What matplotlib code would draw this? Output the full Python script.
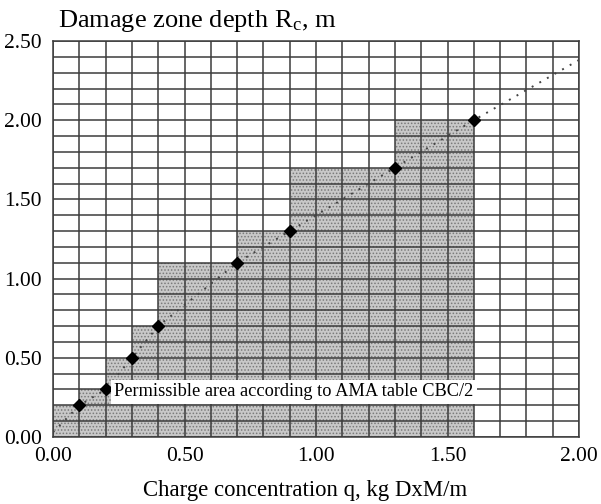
import numpy as np
import matplotlib.pyplot as plt

plt.rcParams['font.family'] = ['Liberation Serif', 'DejaVu Serif']
plt.rcParams['mathtext.fontset'] = 'stix'
plt.rcParams['hatch.color'] = '#7a7a7a'
plt.rcParams['hatch.linewidth'] = 0.7

# charge concentration q (kg DxM/m) vs damage zone depth Rc (m)
q_points = [0.1, 0.2, 0.3, 0.4, 0.7, 0.9, 1.3, 1.6]
rc_points = [0.2, 0.3, 0.5, 0.7, 1.1, 1.3, 1.7, 2.0]

# dotted trend line read along its length
q_line = [0.0, 0.1, 0.2, 0.3, 0.4, 0.7, 0.9, 1.3, 1.6, 2.0]
rc_line = [0.03, 0.2, 0.3, 0.5, 0.7, 1.1, 1.3, 1.7, 2.0, 2.38]

# permissible area (AMA table CBC/2), step edges
q_steps = [0.0, 0.1, 0.2, 0.3, 0.4, 0.7, 0.9, 1.3, 1.6]
rc_steps = [0.2, 0.2, 0.3, 0.5, 0.7, 1.1, 1.3, 1.7, 2.0]

fig = plt.figure(figsize=(6.01, 5.04), dpi=100)
ax = fig.add_axes([0.0882, 0.1329, 0.8752, 0.7858])

ax.fill_between(q_steps, 0, rc_steps, step='pre', facecolor='#c8c8c8',
                edgecolor='none', hatch='.....', zorder=1)

ax.set_xlim(0, 2.0)
ax.set_ylim(0, 2.5)
ax.set_xticks(np.arange(0, 2.01, 0.1), minor=True)
ax.set_yticks(np.arange(0, 2.51, 0.1), minor=True)
ax.set_xticks(np.arange(0, 2.01, 0.5))
ax.set_yticks(np.arange(0, 2.51, 0.5))
ax.xaxis.set_major_formatter(lambda v, p: f'{v:.2f}')
ax.yaxis.set_major_formatter(lambda v, p: f'{v:.2f}')
ax.grid(which='both', color='#3c3c3c', linewidth=1.1, zorder=2)
ax.set_axisbelow(False)
ax.tick_params(which='both', length=0, labelsize=15.5)
ax.tick_params(axis='x', pad=7)
ax.tick_params(axis='y', pad=8)
for s in ax.spines.values():
    s.set_color('#3c3c3c')
    s.set_linewidth(1.1)

ax.plot(q_line, rc_line, linestyle=(0, (1, 3.5)), color='#444444',
        linewidth=1.4, zorder=3)
ax.plot(q_points, rc_points, linestyle='none', marker='D', markersize=6,
        color='black', zorder=4)

ax.text(0.232, 0.285, 'Permissible area according to AMA table CBC/2',
        fontsize=13.2, va='center', ha='left', zorder=5,
        bbox=dict(facecolor='white', edgecolor='none', pad=2.5))

fig.text(58 / 601, 1 - 27 / 504, r'Damage zone depth R$_\mathregular{c}$, m',
         fontsize=19, va='baseline', ha='left')
fig.text(305 / 601, 1 - 496 / 504, 'Charge concentration q, kg DxM/m',
         fontsize=16.4, va='baseline', ha='center')

fig.savefig('out.png', dpi=100)
